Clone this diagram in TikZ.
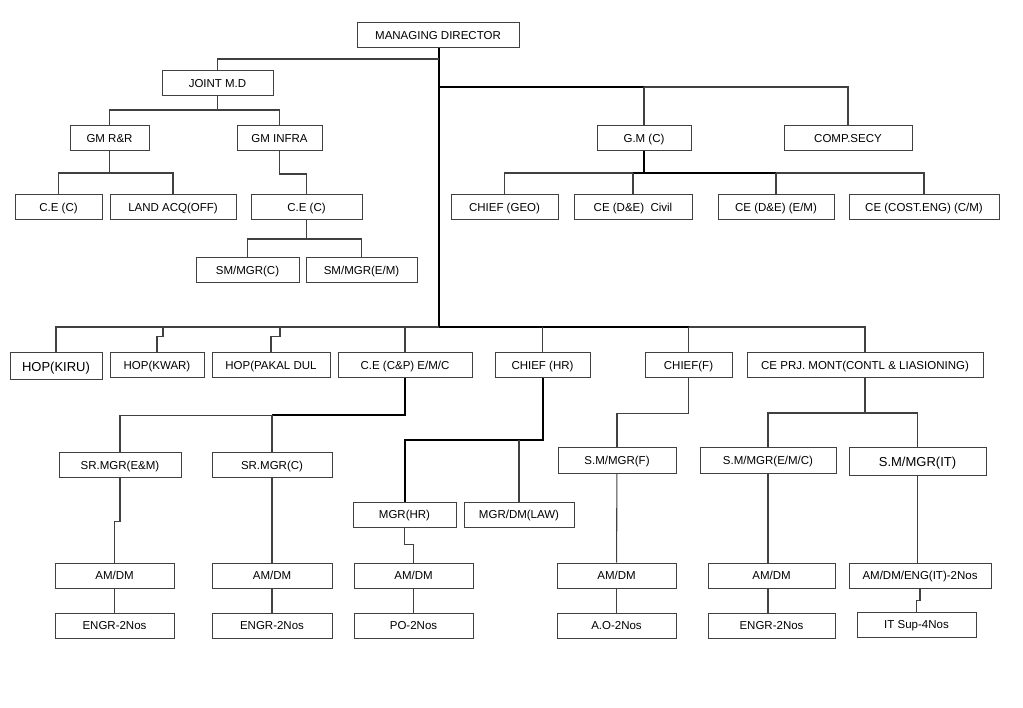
\documentclass[tikz,border=0pt]{standalone}
\usepackage{fontspec}
\setmainfont{Liberation Sans}
\usetikzlibrary{positioning,calc}
\tikzstyle{block} = [draw=black!75, line width=1pt, fill=white, rectangle, minimum height=25pt, inner sep=0pt, text height=8.2pt, text depth=0pt, font=\fontsize{11.5}{13}\selectfont]
\tikzstyle{bigblock} = [block, minimum height=27pt, text height=9.3pt, font=\fontsize{13}{15}\selectfont]
\tikzstyle{link} = [draw=black!75, line width=1.1pt]
\tikzstyle{trunk} = [draw=black, line width=2pt]
\begin{document}
\begin{tikzpicture}[x=1pt, y=-1pt]
    \useasboundingbox (0,0) rectangle (1023,708);

    \node [block, minimum width=162] (md) at (438,35.5) {MANAGING DIRECTOR};
    \node [block, minimum width=111] (jmd) at (217.5,83) {JOINT M.D};

    \node [block, minimum width=79] (gmrr) at (109.5,138) {GM R\&R};
    \node [block, minimum width=85] (gminfra) at (279.5,138) {GM INFRA};
    \node [block, minimum width=94] (gmc) at (644,138) {G.M (C)};
    \node [block, minimum width=128] (compsecy) at (848,138) {COMP.SECY};

    \node [block, minimum width=87] (ceA) at (58.5,207.5) {C.E (C)};
    \node [block, minimum width=126] (landacq) at (173,207.5) {LAND ACQ(OFF)};
    \node [block, minimum width=111] (ceB) at (306.5,207.5) {C.E (C)};
    \node [block, minimum width=107] (chiefgeo) at (504.5,207.5) {CHIEF (GEO)};
    \node [block, minimum width=118] (cedec) at (633,207.5) {CE (D\&E)\ \ Civil};
    \node [block, minimum width=116] (cedeem) at (776,207.5) {CE (D\&E) (E/M)};
    \node [block, minimum width=150] (cecost) at (924,207.5) {CE (COST.ENG) (C/M)};

    \node [block, minimum width=103] (smmgrc) at (247.5,270.5) {SM/MGR(C)};
    \node [block, minimum width=111] (smmgrem) at (361.5,270.5) {SM/MGR(E/M)};

    \node [bigblock, minimum width=92] (hopkiru) at (56,366.5) {HOP(KIRU)};
    \node [block, minimum width=94] (hopkwar) at (157,365.5) {HOP(KWAR)};
    \node [block, minimum width=118] (hoppakal) at (271,365.5) {HOP(PAKAL DUL};
    \node [block, minimum width=134] (cecp) at (405,365.5) {C.E (C\&P) E/M/C};
    \node [block, minimum width=95] (chiefhr) at (542.5,365.5) {CHIEF (HR)};
    \node [block, minimum width=87] (chieff) at (688.5,365.5) {CHIEF(F)};
    \node [block, minimum width=236] (ceprj) at (865,365.5) {CE PRJ. MONT(CONTL \& LIASIONING)};

    \node [block, minimum width=122, minimum height=24] (srmgrem) at (120,465) {SR.MGR(E\&M)};
    \node [block, minimum width=120, minimum height=24] (srmgrc) at (272,465) {SR.MGR(C)};
    \node [block, minimum width=118] (smmgrf) at (617,460.5) {S.M/MGR(F)};
    \node [block, minimum width=136] (smmgremc) at (768,460.5) {S.M/MGR(E/M/C)};
    \node [bigblock, minimum width=137] (smmgrit) at (917.5,461.5) {S.M/MGR(IT)};

    \node [block, minimum width=103] (mgrhr) at (404.5,514.5) {MGR(HR)};
    \node [block, minimum width=110] (mgrdmlaw) at (519,514.5) {MGR/DM(LAW)};

    \node [block, minimum width=119] (amdmA) at (114.5,575.5) {AM/DM};
    \node [block, minimum width=120] (amdmB) at (272,575.5) {AM/DM};
    \node [block, minimum width=119] (amdmC) at (413.5,575.5) {AM/DM};
    \node [block, minimum width=119] (amdmD) at (616.5,575.5) {AM/DM};
    \node [block, minimum width=127] (amdmE) at (771.5,575.5) {AM/DM};
    \node [block, minimum width=142] (amdmit) at (920,575.5) {AM/DM/ENG(IT)-2Nos};

    \node [block, minimum width=119, below=24pt of amdmA] (engrA) {ENGR-2Nos};
    \node [block, minimum width=120, below=24pt of amdmB] (engrB) {ENGR-2Nos};
    \node [block, minimum width=119, below=24pt of amdmC] (po) {PO-2Nos};
    \node [block, minimum width=119, below=24pt of amdmD] (ao) {A.O-2Nos};
    \node [block, minimum width=127, below=24pt of amdmE] (engrC) {ENGR-2Nos};
    \node [block, minimum width=119] (itsup) at (916.5,624.5) {IT Sup-4Nos};

    % main line
    \coordinate (tj) at (439,59);
    \coordinate (tg) at (439,87);
    \coordinate (tb) at (439,327);
    \draw [trunk] (tb |- md.south) -- (tb);
    \draw [link] (tj) -| (jmd);
    \draw [trunk] (tg) -- (tg -| gmc);
    \draw [link] (tg -| gmc) -- (gmc);
    \draw [link] (tg -| gmc) -| (compsecy);

    % joint md side
    \coordinate (jb) at (217.5,110);
    \draw [link] (jmd) -- (jb);
    \draw [link] (gmrr) |- (jb) -| (gminfra);
    \coordinate (rrb) at (109.5,173);
    \draw [link] (gmrr) -- (rrb);
    \draw [link] (ceA) |- (rrb) -| (landacq);
    \draw [link] (gminfra.south) -- ++(0,23) -| (ceB.north);
    \coordinate (ceBb) at (306.5,239);
    \draw [link] (ceB) -- (ceBb);
    \draw [link] (smmgrc) |- (ceBb) -| (smmgrem);

    % g.m (c)
    \coordinate (gmcb) at (644,173);
    \draw [trunk] (gmc) -- (gmcb);
    \draw [link] (chiefgeo) |- (gmcb) -| (cecost);
    \draw [trunk] (gmcb -| cedec) -- (gmcb -| cedeem);
    \draw [link] (cedec) -- (gmcb -| cedec);
    \draw [link] (cedeem) -- (gmcb -| cedeem);

    % lower row
    \coordinate (kw) at (163,327);
    \coordinate (pk) at (280,327);
    \draw [link] (hopkiru) |- (tb);
    \draw [trunk] (tb) -- (tb -| chieff);
    \draw [link] (tb -| chieff) -| (ceprj);
    \draw [link] (chieff) -- (tb -| chieff);
    \draw [link] (chiefhr) -- (tb -| chiefhr);
    \draw [link] (cecp) -- (tb -| cecp);
    \draw [link] (hopkwar.north) -- ++(0,-16) -| (kw);
    \draw [link] (hoppakal.north) -- ++(0,-16) -| (pk);

    % c.e (c&p)
    \coordinate (cpb) at (405,415.5);
    \draw [trunk] (cecp) -- (cpb) -- (cpb -| srmgrc);
    \draw [link] (srmgrem) |- (cpb -| srmgrc);
    \draw [link] (srmgrc) -- (cpb -| srmgrc);
    \draw [link] (srmgrem.south) -- ++(0,44) -| (amdmA.north);
    \draw [link] (srmgrc) -- (amdmB);

    % chief (hr)
    \coordinate (hrb) at (542.5,440);
    \draw [trunk] (chiefhr) -- (hrb) -| (mgrhr);
    \draw [link] (mgrdmlaw) -- (hrb -| mgrdmlaw);
    \draw [link] (mgrhr.south) -- ++(0,17) -| (amdmC.north);

    % chief (f)
    \draw [link] (chieff.south) -- ++(0,35) -| (smmgrf.north);
    \draw [link] (smmgrf) -- (amdmD);

    % ce prj
    \coordinate (pjb) at (865,413);
    \draw [link] (ceprj) -- (pjb);
    \draw [link] (smmgremc) |- (pjb) -| (smmgrit);
    \draw [link] (smmgremc) -- (smmgremc |- amdmE.north);
    \draw [link] (smmgrit) -- (smmgrit |- amdmit.north);
    \draw [link] (amdmit.south) -- ++(0,12) -| (itsup.north);

    % last row
    \draw [link] (amdmA) -- (engrA);
    \draw [link] (amdmB) -- (engrB);
    \draw [link] (amdmC) -- (po);
    \draw [link] (amdmD) -- (ao);
    \draw [link] (smmgremc |- amdmE.south) -- (smmgremc |- engrC.north);
\end{tikzpicture}
\end{document}
